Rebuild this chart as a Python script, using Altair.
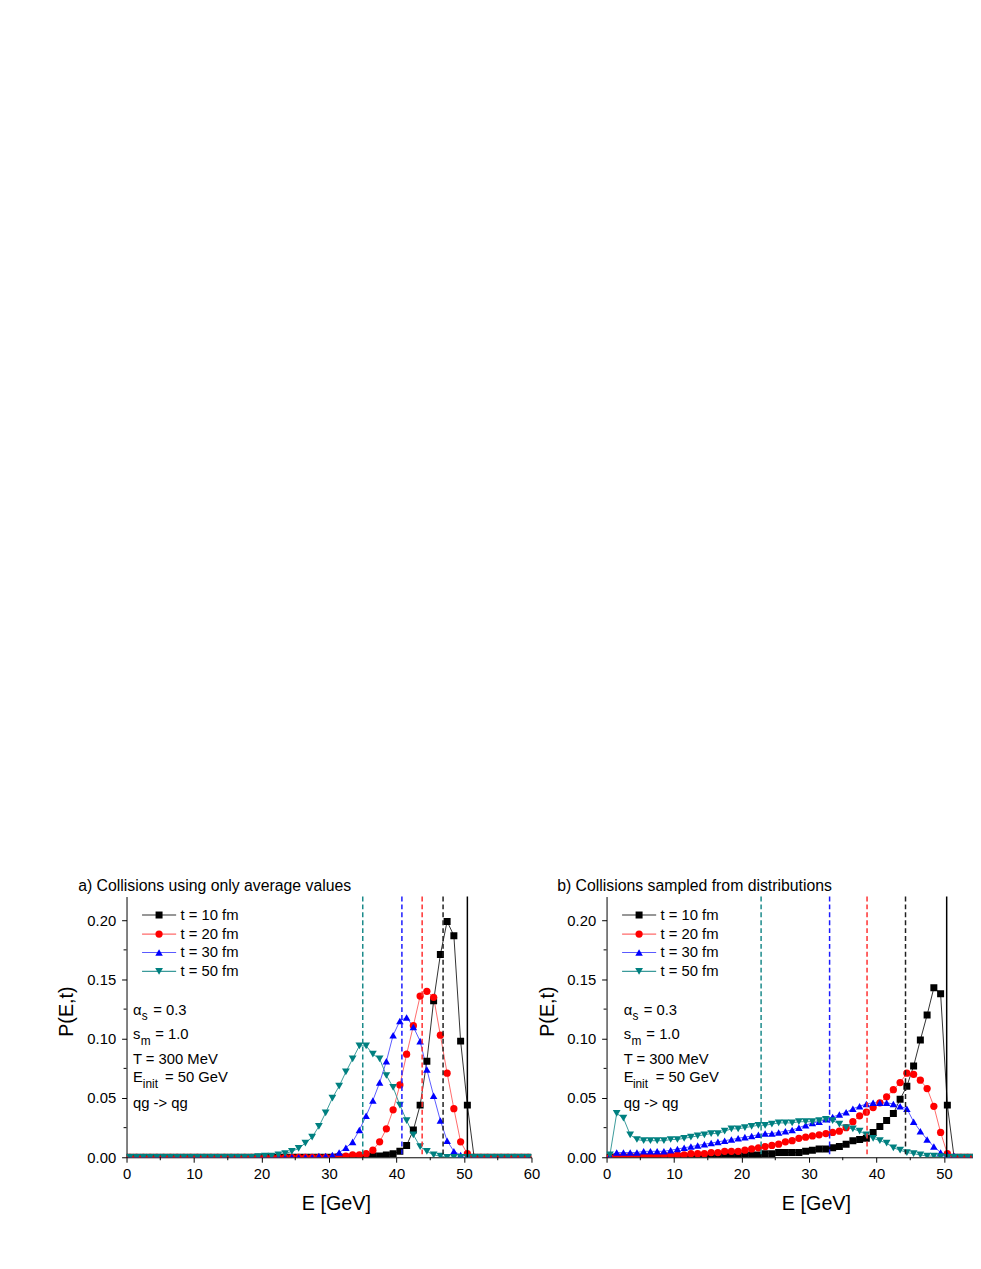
import altair as alt
import pandas as pd

FONT = "Liberation Sans"

# energy grid (bin centres, GeV)
E = [i + 0.5 for i in range(60)]
SERIES = ["t = 10 fm", "t = 20 fm", "t = 30 fm", "t = 50 fm"]

# ---- panel a) averages ----
A_T10 = [0, 0, 0, 0, 0, 0, 0, 0, 0, 0,
         0, 0, 0, 0, 0, 0, 0, 0, 0, 0,
         0, 0, 0, 0, 0, 0, 0, 0, 0, 0,
         0, 0, 0, 0, 0, 0.001, 0.001, 0.001, 0.002, 0.003,
         0.005, 0.010, 0.023, 0.044, 0.081, 0.132, 0.171, 0.199, 0.187, 0.098,
         0.044, 0, 0, 0, 0, 0, 0, 0, 0, 0]
A_T20 = [0, 0, 0, 0, 0, 0, 0, 0, 0, 0,
         0, 0, 0, 0, 0, 0, 0, 0, 0, 0,
         0, 0, 0, 0, 0, 0, 0, 0, 0, 0,
         0, 0.001, 0.001, 0.002, 0.002, 0.003, 0.006, 0.013, 0.024, 0.040,
         0.061, 0.087, 0.111, 0.136, 0.140, 0.135, 0.103, 0.071, 0.041, 0.013,
         0.003, 0, 0, 0, 0, 0, 0, 0, 0, 0]
A_T30 = [0, 0, 0, 0, 0, 0, 0, 0, 0, 0,
         0, 0, 0, 0, 0, 0, 0, 0, 0, 0,
         0, 0, 0, 0, 0, 0, 0, 0, 0.001, 0.001,
         0.002, 0.004, 0.008, 0.013, 0.023, 0.035, 0.048, 0.063, 0.081, 0.103,
         0.115, 0.118, 0.110, 0.098, 0.074, 0.052, 0.031, 0.014, 0.005, 0.002,
         0.001, 0, 0, 0, 0, 0, 0, 0, 0, 0]
A_T50 = [0, 0, 0, 0, 0, 0, 0, 0, 0, 0,
         0, 0, 0, 0, 0, 0, 0, 0, 0, 0.0005,
         0.001, 0.001, 0.002, 0.003, 0.005, 0.0075, 0.012, 0.017, 0.026, 0.0375,
         0.050, 0.060, 0.072, 0.083, 0.094, 0.094, 0.087, 0.083, 0.069, 0.059,
         0.044, 0.031, 0.019, 0.009, 0.005, 0.002, 0.001, 0, 0, 0,
         0, 0, 0, 0, 0, 0, 0, 0, 0, 0]
A_MEAN = [46.9, 43.8, 40.8, 35.0]
A_EINIT = 50.5

# ---- panel b) sampled ----
B_T10 = [0, 0, 0, 0, 0, 0, 0, 0, 0, 0,
         0.0005, 0.0005, 0.0005, 0.0005, 0.0005, 0.001, 0.001, 0.001, 0.001, 0.001,
         0.0015, 0.002, 0.002, 0.003, 0.003, 0.004, 0.004, 0.004, 0.004, 0.005,
         0.006, 0.007, 0.007, 0.008, 0.009, 0.011, 0.014, 0.015, 0.016, 0.021,
         0.026, 0.031, 0.037, 0.049, 0.060, 0.077, 0.099, 0.120, 0.143, 0.138,
         0.044, 0, 0, 0, 0, 0, 0, 0, 0, 0]
B_T20 = [0, 0.001, 0.001, 0.001, 0.001, 0.001, 0.001, 0.001, 0.002, 0.002,
         0.002, 0.002, 0.003, 0.003, 0.003, 0.004, 0.004, 0.005, 0.005, 0.005,
         0.006, 0.007, 0.008, 0.009, 0.010, 0.011, 0.013, 0.014, 0.016, 0.017,
         0.018, 0.019, 0.020, 0.021, 0.022, 0.025, 0.030, 0.035, 0.038, 0.042,
         0.046, 0.051, 0.057, 0.063, 0.071, 0.070, 0.065, 0.058, 0.043, 0.021,
         0.003, 0, 0, 0, 0, 0, 0, 0, 0, 0]
B_T30 = [0.001, 0.004, 0.004, 0.004, 0.004, 0.005, 0.005, 0.005, 0.005, 0.006,
         0.007, 0.008, 0.009, 0.010, 0.011, 0.012, 0.013, 0.014, 0.015, 0.016,
         0.017, 0.018, 0.019, 0.020, 0.020, 0.021, 0.022, 0.023, 0.025, 0.027,
         0.029, 0.030, 0.032, 0.034, 0.036, 0.038, 0.041, 0.043, 0.045, 0.046,
         0.046, 0.046, 0.045, 0.043, 0.041, 0.030, 0.022, 0.015, 0.009, 0.004,
         0.002, 0.001, 0, 0, 0, 0, 0, 0, 0, 0]
B_T50 = [0.002, 0.037, 0.033, 0.019, 0.015, 0.014, 0.014, 0.014, 0.014, 0.015,
         0.015, 0.016, 0.017, 0.018, 0.019, 0.020, 0.020, 0.022, 0.024, 0.024,
         0.025, 0.026, 0.027, 0.027, 0.028, 0.029, 0.029, 0.029, 0.030, 0.030,
         0.030, 0.031, 0.032, 0.031, 0.028, 0.025, 0.024, 0.022, 0.019, 0.016,
         0.014, 0.012, 0.008, 0.006, 0.004, 0.003, 0.002, 0.001, 0.001, 0.0005,
         0, 0, 0, 0, 0, 0, 0, 0, 0, 0]
B_MEAN = [44.3, 38.6, 33.05, 22.9]
B_EINIT = 50.4

# styles
MARKER_COLORS = ["#000000", "#FF0000", "#0000FF", "#008080"]
LINE_COLORS = ["#303030", "#FF6A6A", "#5A5AFF", "#3A9A9A"]
DASH_COLORS = ["#202020", "#FF3030", "#1A1AFF", "#1A8A8A"]
SHAPES = ["square", "circle", "triangle-up", "triangle-down"]
SIZES = [50, 62, 75, 75]

# legend layout (data units inside each panel)
LEG_Y = [0.2044, 0.1883, 0.1728, 0.1569]
LEG_X0, LEG_X1, LEG_XM, LEG_XT = 2.3, 7.35, 4.82, 8.0

# parameter annotation pieces: (x, y, text, is_subscript)
ANN_A = [(0.95, 0.1242, "α", False), (2.27, 0.1188, "s", True), (3.95, 0.1242, "= 0.3", False),
         (0.95, 0.1038, "s", False), (2.12, 0.0983, "m", True), (4.24, 0.1038, "= 1.0", False),
         (0.95, 0.0829, "T = 300 MeV", False),
         (0.95, 0.0675, "E", False), (2.41, 0.0621, "init", True), (5.70, 0.0675, "= 50 GeV", False),
         (0.95, 0.0454, "qg -> qg", False)]
ANN_B = [(2.54, 0.1242, "α", False), (3.86, 0.1188, "s", True), (5.50, 0.1242, "= 0.3", False),
         (2.54, 0.1038, "s", False), (3.71, 0.0983, "m", True), (5.90, 0.1038, "= 1.0", False),
         (2.54, 0.0829, "T = 300 MeV", False),
         (2.54, 0.0675, "E", False), (3.90, 0.0621, "init", True), (7.30, 0.0675, "= 50 GeV", False),
         (2.54, 0.0454, "qg -> qg", False)]


def make_panel(vals, means, einit, title, xmax, width, ann, title_dx):
    rows = []
    for s, v in zip(SERIES, vals):
        for e, p in zip(E, v):
            rows.append({"E": e, "P": p, "series": s})
    df = pd.DataFrame(rows)

    xs = alt.Scale(domain=[0, xmax], nice=False, zero=False)
    ys = alt.Scale(domain=[0, 0.22], nice=False, zero=False)
    major_x = [v for v in range(0, 61, 10) if v <= xmax]
    minor_x = [v for v in range(5, 61, 10) if v <= xmax]

    xaxis = alt.Axis(values=major_x, title="E [GeV]", labelFlush=False, labelOverlap=False,
                     tickSize=5, labelPadding=4, titlePadding=13, titleX=212, grid=False)
    yaxis = alt.Axis(values=[0, 0.05, 0.10, 0.15, 0.20], format=".2f", title="P(E,t)",
                     labelFlush=False, labelOverlap=False, tickSize=5, labelPadding=6,
                     titlePadding=10, titleY=116, grid=False)

    def X(f):
        return alt.X(f, scale=xs, axis=xaxis)

    def Y(f):
        return alt.Y(f, scale=ys, axis=yaxis)

    stroke_sc = alt.Scale(domain=SERIES, range=LINE_COLORS)
    fill_sc = alt.Scale(domain=SERIES, range=MARKER_COLORS)
    shape_sc = alt.Scale(domain=SERIES, range=SHAPES)
    size_sc = alt.Scale(domain=SERIES, range=SIZES)
    dash_sc = alt.Scale(domain=SERIES, range=DASH_COLORS)

    lines = alt.Chart(df).mark_line(strokeWidth=1, clip=True).encode(
        x=X("E:Q"), y=Y("P:Q"),
        stroke=alt.Stroke("series:N", scale=stroke_sc, legend=None),
    )
    pts = alt.Chart(df).mark_point(filled=True, opacity=1, strokeWidth=0, clip=True).encode(
        x=X("E:Q"), y=Y("P:Q"),
        fill=alt.Fill("series:N", scale=fill_sc, legend=None),
        shape=alt.Shape("series:N", scale=shape_sc, legend=None),
        size=alt.Size("series:N", scale=size_sc, legend=None),
    )
    vdf = pd.DataFrame({"x": means, "series": SERIES})
    vr = alt.Chart(vdf).mark_rule(strokeWidth=1.5, strokeDash=[5, 3]).encode(
        x=X("x:Q"),
        color=alt.Color("series:N", scale=dash_sc, legend=None),
    )
    edf = pd.DataFrame({"x": [einit]})
    er = alt.Chart(edf).mark_rule(strokeWidth=1.5, color="black").encode(x=X("x:Q"))

    ldf = pd.DataFrame({"series": SERIES, "y": LEG_Y, "x0": [LEG_X0] * 4,
                        "x1": [LEG_X1] * 4, "xm": [LEG_XM] * 4, "xt": [LEG_XT] * 4})
    leg_line = alt.Chart(ldf).mark_rule(strokeWidth=1.2).encode(
        x=X("x0:Q"), x2="x1:Q", y=Y("y:Q"),
        stroke=alt.Stroke("series:N", scale=stroke_sc, legend=None))
    leg_pt = alt.Chart(ldf).mark_point(filled=True, opacity=1, strokeWidth=0).encode(
        x=X("xm:Q"), y=Y("y:Q"),
        fill=alt.Fill("series:N", scale=fill_sc, legend=None),
        shape=alt.Shape("series:N", scale=shape_sc, legend=None),
        size=alt.Size("series:N", scale=size_sc, legend=None))
    leg_txt = alt.Chart(ldf).mark_text(align="left", baseline="middle", fontSize=15,
                                       font=FONT, color="black").encode(
        x=X("xt:Q"), y=Y("y:Q"), text="series:N")

    adf = pd.DataFrame([{"x": a[0], "y": a[1], "t": a[2], "sub": a[3]} for a in ann])
    ann_main = alt.Chart(adf[~adf["sub"]]).mark_text(align="left", baseline="middle", fontSize=15,
                                                     font=FONT, color="black").encode(
        x=X("x:Q"), y=Y("y:Q"), text="t:N")
    ann_sub = alt.Chart(adf[adf["sub"]]).mark_text(align="left", baseline="middle", fontSize=12,
                                                   font=FONT, color="black").encode(
        x=X("x:Q"), y=Y("y:Q"), text="t:N")

    mxdf = pd.DataFrame({"v": minor_x})
    minor_xt = alt.Chart(mxdf).mark_rule(color="black", strokeWidth=1).encode(
        x=X("v:Q"), y=alt.value(264), y2=alt.value(267))
    mydf = pd.DataFrame({"v": [0.025, 0.075, 0.125, 0.175]})
    minor_yt = alt.Chart(mydf).mark_rule(color="black", strokeWidth=1).encode(
        y=Y("v:Q"), x=alt.value(0), x2=alt.value(-3))

    return alt.layer(lines, pts, vr, er, leg_line, leg_pt, leg_txt, ann_main, ann_sub,
                     minor_xt, minor_yt).properties(
        width=width, height=264,
        title=alt.TitleParams(text=title, anchor="start", frame="group", dx=title_dx,
                              offset=-11, fontSize=16, font=FONT, fontWeight="normal",
                              color="black", baseline="alphabetic"))


pa = make_panel([A_T10, A_T20, A_T30, A_T50], A_MEAN, A_EINIT,
                "a) Collisions using only average values", 60, 410, ANN_A, -49)
pb = make_panel([B_T10, B_T20, B_T30, B_T50], B_MEAN, B_EINIT,
                "b) Collisions sampled from distributions", 54.3, 371, ANN_B, -50)

chart = alt.hconcat(pa, pb, spacing=76, bounds="flush").properties(
    padding={"left": 49, "top": 873, "right": 0, "bottom": 5}
).configure(font=FONT).configure_view(stroke=None).configure_axis(
    labelFont=FONT, titleFont=FONT, labelFontSize=15, titleFontSize=20,
    labelColor="black", titleColor="black", domainColor="black", tickColor="black",
    domainWidth=1, tickWidth=1, titleFontWeight="normal", grid=False
)

chart.save("out.html", embed_options={"renderer": "svg", "actions": False})
